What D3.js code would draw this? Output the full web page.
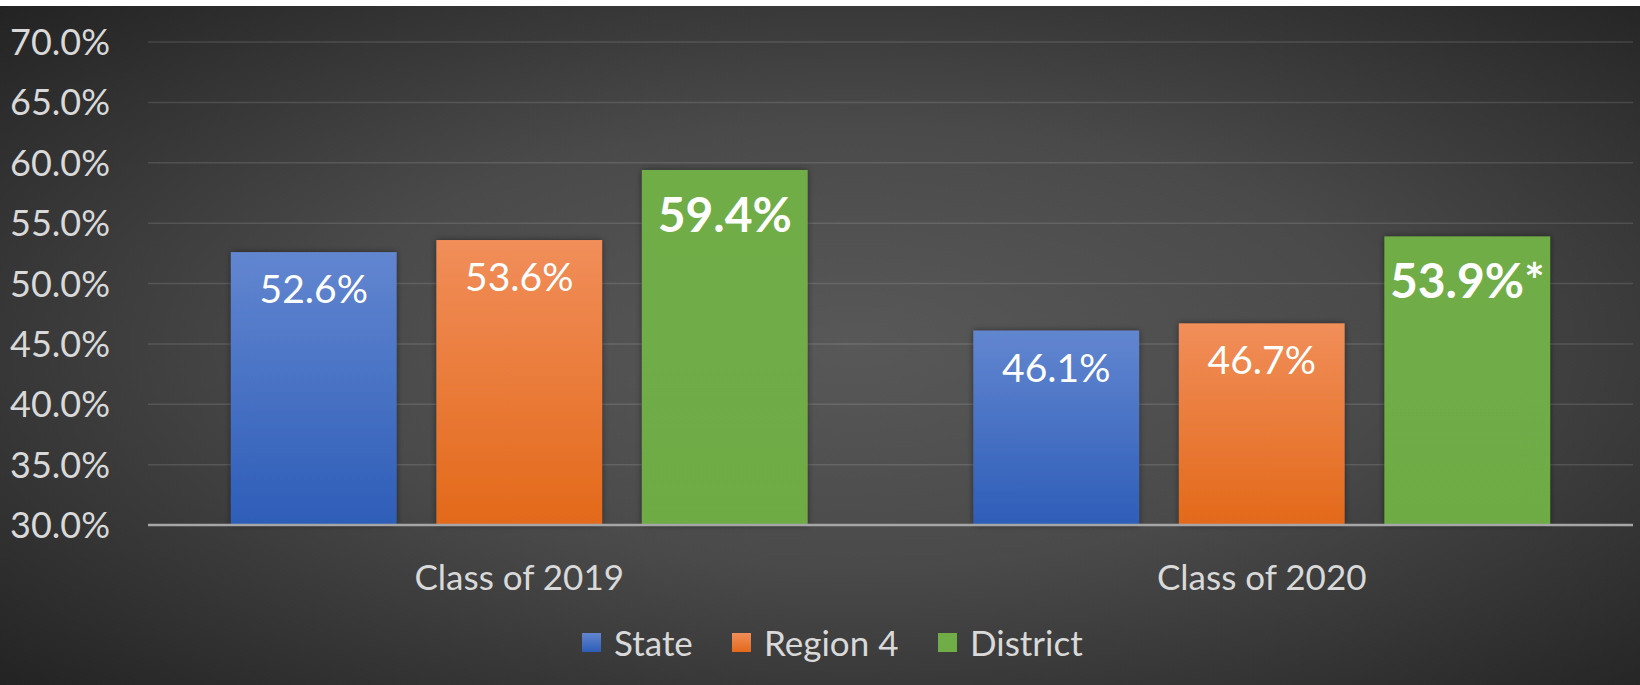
<!DOCTYPE html>
<html>
<head>
<meta charset="utf-8">
<script src="https://cdn.jsdelivr.net/npm/d3@7"></script>
<style>
  html, body { margin: 0; padding: 0; background: #fff; }
  svg { display: block; }
</style>
</head>
<body>
<div class="chart"></div>
<script>
const width = 1640;
const height = 685;

// data
const categories = ["Class of 2019", "Class of 2020"];
const seriesNames = ["State", "Region 4", "District"];
const stateValues = [52.6, 46.1];
const region4Values = [53.6, 46.7];
const districtValues = [59.4, 53.9];
const districtNotes = ["", "*"];
const yTicks = [30, 35, 40, 45, 50, 55, 60, 65, 70];

const seriesValues = [stateValues, region4Values, districtValues];

const svg = d3.select(".chart")
    .append("svg")
        .attr("width", width)
        .attr("height", height);

const defs = svg.append("defs");

const bg = defs.append("radialGradient")
    .attr("id", "bg")
    .attr("cx", "52%").attr("cy", "50%").attr("r", "72%");
bg.append("stop").attr("offset", "0%").attr("stop-color", "#585858");
bg.append("stop").attr("offset", "45%").attr("stop-color", "#4a4a4a");
bg.append("stop").attr("offset", "100%").attr("stop-color", "#232323");

function vGrad(id, top, bottom) {
    const g = defs.append("linearGradient")
        .attr("id", id)
        .attr("x1", 0).attr("y1", 0).attr("x2", 0).attr("y2", 1);
    g.append("stop").attr("offset", "0%").attr("stop-color", top);
    g.append("stop").attr("offset", "100%").attr("stop-color", bottom);
}
vGrad("gState", "#6286d0", "#2e5db8");
vGrad("gRegion", "#f18e5a", "#e3691a");
vGrad("gDistrict", "#70ad47", "#6eab45");

const shadow = defs.append("filter")
    .attr("id", "shadow")
    .attr("x", "-10%").attr("y", "-10%").attr("width", "120%").attr("height", "120%");
shadow.append("feDropShadow")
    .attr("dx", 0).attr("dy", 0)
    .attr("stdDeviation", 3)
    .attr("flood-color", "#000")
    .attr("flood-opacity", 0.45);

const fills = ["url(#gState)", "url(#gRegion)", "url(#gDistrict)"];
const legendFills = ["url(#gState)", "url(#gRegion)", "#70ad47"];

// background
svg.append("rect")
    .attr("x", 0).attr("y", 6)
    .attr("width", width).attr("height", height - 6)
    .attr("fill", "url(#bg)");

const y = d3.scaleLinear()
    .domain([30, 70])
    .range([525, 42]);

const x0 = d3.scaleBand()
    .domain(categories)
    .range([148, 1633]);

const x1 = d3.scaleBand()
    .domain(seriesNames)
    .range([0, x0.bandwidth()])
    .paddingInner(0.24 / 1.24)
    .paddingOuter(0.5 / 1.24);

// gridlines
svg.append("g")
    .selectAll("line")
    .data(yTicks.slice(1))
    .join("line")
        .attr("x1", 148).attr("x2", 1633)
        .attr("y1", d => y(d)).attr("y2", d => y(d))
        .attr("stroke", "rgba(255,255,255,0.12)")
        .attr("stroke-width", 1.5);

// y tick labels
svg.append("g")
    .selectAll("text")
    .data(yTicks)
    .join("text")
        .attr("x", 110)
        .attr("y", d => y(d) + 13)
        .attr("text-anchor", "end")
        .attr("font-family", "Lato, sans-serif")
        .attr("font-size", 36)
        .attr("fill", "#d9d9d9")
        .text(d => d.toFixed(1) + "%");

// bars
const rows = [];
categories.forEach((c, i) => {
    seriesNames.forEach((s, j) => {
        rows.push({cat: c, series: s, j: j, value: seriesValues[j][i],
                   note: j === 2 ? districtNotes[i] : ""});
    });
});

const bars = svg.append("g");
bars.selectAll("rect")
    .data(rows)
    .join("rect")
        .attr("x", d => x0(d.cat) + x1(d.series))
        .attr("y", d => y(d.value))
        .attr("width", x1.bandwidth())
        .attr("height", d => y(30) - y(d.value))
        .attr("fill", d => fills[d.j])
        .attr("filter", "url(#shadow)");

// axis line
svg.append("line")
    .attr("x1", 148).attr("x2", 1633)
    .attr("y1", y(30)).attr("y2", y(30))
    .attr("stroke", "#a6a6a6")
    .attr("stroke-width", 2.5);

// value labels
svg.append("g")
    .selectAll("text")
    .data(rows)
    .join("text")
        .attr("x", d => x0(d.cat) + x1(d.series) + x1.bandwidth() / 2)
        .attr("y", d => y(d.value) + (d.j === 2 ? 62 : 51))
        .attr("text-anchor", "middle")
        .attr("font-family", "Lato, sans-serif")
        .attr("font-size", d => d.j === 2 ? 48 : 39)
        .attr("font-weight", d => d.j === 2 ? "bold" : "normal")
        .attr("fill", "#ffffff")
        .text(d => d.value.toFixed(1) + "%" + d.note);

// category labels
svg.append("g")
    .selectAll("text")
    .data(categories)
    .join("text")
        .attr("x", d => x0(d) + x0.bandwidth() / 2)
        .attr("y", 590)
        .attr("text-anchor", "middle")
        .attr("font-family", "Lato, sans-serif")
        .attr("font-size", 35)
        .attr("fill", "#d9d9d9")
        .text(d => d);

// legend
const legendX = [582, 732, 938];
const legend = svg.append("g")
    .selectAll("g")
    .data(seriesNames)
    .join("g")
        .attr("transform", (d, i) => `translate(${legendX[i]},0)`);
legend.append("rect")
    .attr("x", 0).attr("y", 633)
    .attr("width", 19).attr("height", 19)
    .attr("fill", (d, i) => legendFills[i]);
legend.append("text")
    .attr("x", 32).attr("y", 656)
    .attr("font-family", "Lato, sans-serif")
    .attr("font-size", 35)
    .attr("fill", "#d9d9d9")
    .text(d => d);
</script>
</body>
</html>
